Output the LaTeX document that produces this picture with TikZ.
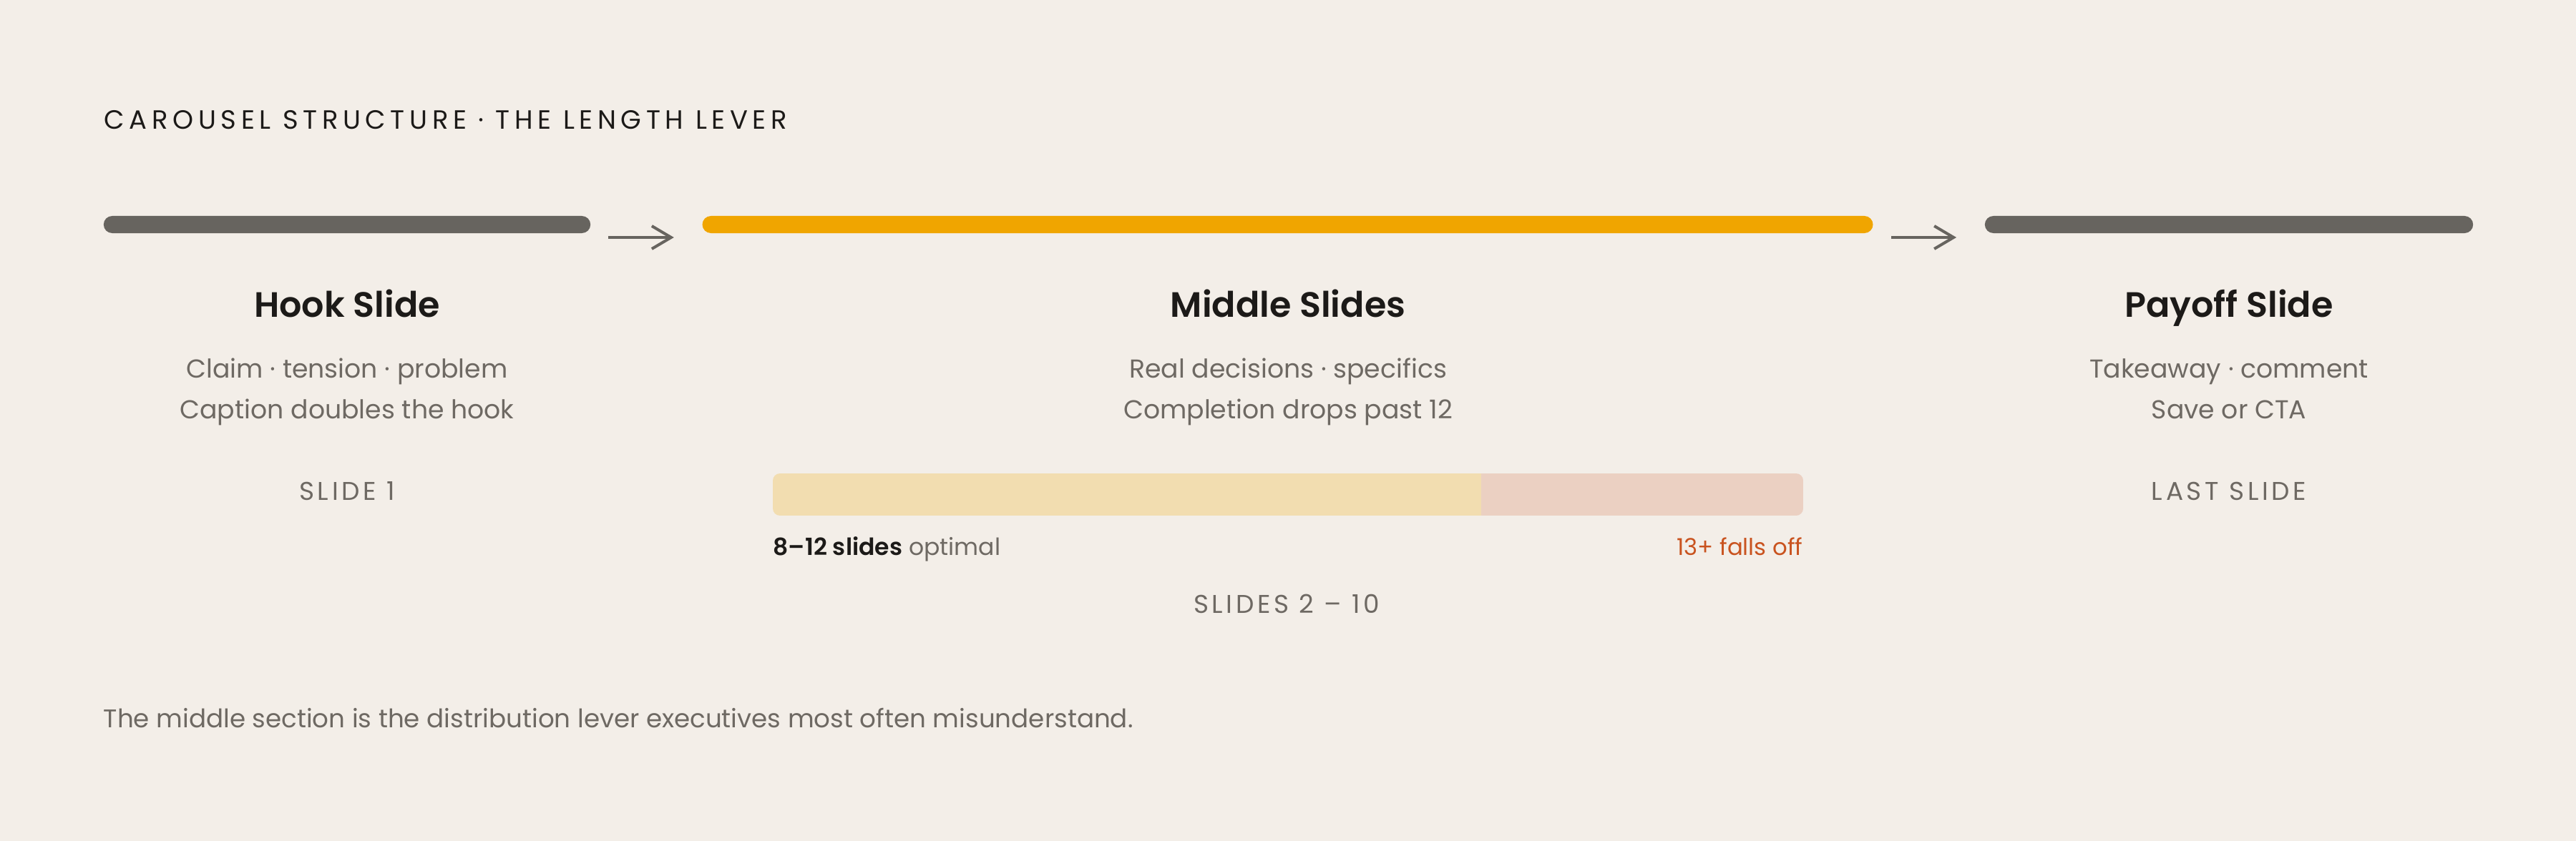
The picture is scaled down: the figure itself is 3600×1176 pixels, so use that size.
\documentclass[tikz,border=0pt]{standalone}
\usepackage{fontspec}
\setmainfont{Poppins}[BoldFont={Poppins SemiBold}]
\usetikzlibrary{arrows.meta,calc}

\definecolor{paper}{HTML}{F3EEE8}
\definecolor{ink}{HTML}{1C1A18}
\definecolor{slate}{HTML}{67645F}
\definecolor{mutetext}{HTML}{6E6963}
\definecolor{amber}{HTML}{F0A500}
\definecolor{amberlight}{HTML}{F2DDB0}
\definecolor{rosy}{HTML}{EBD0C2}
\definecolor{rust}{HTML}{C9531F}

\tikzset{
	bar/.style={rounded corners=0.12cm, minimum height=0.24cm, inner sep=0pt},
	head/.style={anchor=base, inner sep=0pt, text=ink, font=\bfseries\fontsize{14}{17}\selectfont},
	body/.style={anchor=base, inner sep=0pt, text=mutetext, font=\fontsize{10.3}{13}\selectfont},
	tag/.style={anchor=base, inner sep=0pt, text=mutetext, font=\addfontfeatures{LetterSpace=13}\fontsize{10.2}{12}\selectfont},
	flow/.style={draw=slate, line width=0.04cm, -{Straight Barb[length=0.27cm,width=0.32cm]}}
}

\begin{document}
\begin{tikzpicture}[x=0.01cm, y=-0.01cm]
	\fill[paper] (0, 0) rectangle (3600, 1176);

	\node[anchor=base west, inner sep=0pt, text=ink, font=\addfontfeatures{LetterSpace=18}\fontsize{10.5}{12}\selectfont]
		(title) at (145, 180) {CAROUSEL STRUCTURE · THE LENGTH LEVER};

	% the three parts of the carousel
	\node[bar, fill=slate, minimum width=6.8cm] (hookbar) at (485, 314) {};
	\node[bar, fill=amber, minimum width=16.35cm] (midbar) at (1799.5, 314) {};
	\node[bar, fill=slate, minimum width=6.82cm] (payoffbar) at (3115, 314) {};

	\draw[flow] ($(hookbar.east)+(24, 18)$) -- ($(midbar.west)+(-39, 18)$);
	\draw[flow] ($(midbar.east)+(25, 18)$) -- ($(payoffbar.west)+(-39, 18)$);

	\node[head] (hook) at (485, 443) {Hook Slide};
	\node[body] (hooka) at (485, 528) {Claim · tension · problem};
	\node[body] (hookb) at (485, 585) {Caption doubles the hook};
	\node[tag] (hooktag) at (485, 699) {SLIDE 1};

	\node[head] (mid) at (1800, 443) {Middle Slides};
	\node[body] (mida) at (1800, 528) {Real decisions · specifics};
	\node[body] (midb) at (1800, 585) {Completion drops past 12};

	\node[head] (payoff) at (3115, 443) {Payoff Slide};
	\node[body] (payoffa) at (3115, 528) {Takeaway · comment};
	\node[body] (payoffb) at (3115, 585) {Save or CTA};
	\node[tag] (payofftag) at (3115, 699) {LAST SLIDE};

	% length bar
	\begin{scope}
		\clip[rounded corners=0.1cm] (1080, 662) rectangle (2520, 721);
		\fill[amberlight] (1080, 662) rectangle (2070, 721);
		\fill[rosy] (2070, 662) rectangle (2520, 721);
	\end{scope}
	\node[anchor=base west, inner sep=0pt, font=\fontsize{9.4}{11}\selectfont, text=mutetext]
		(optimal) at (1080, 776) {\textcolor{ink}{\bfseries 8–12 slides} optimal};
	\node[anchor=base east, inner sep=0pt, font=\fontsize{9.2}{11}\selectfont, text=rust]
		(falls) at (2520, 776) {13+ falls off};
	\node[tag] (midtag) at (1798, 857) {SLIDES 2 – 10};

	\node[anchor=base west, inner sep=0pt, font=\fontsize{10.15}{12}\selectfont, text=mutetext]
		(note) at (144, 1017) {The middle section is the distribution lever executives most often misunderstand.};
\end{tikzpicture}
\end{document}
